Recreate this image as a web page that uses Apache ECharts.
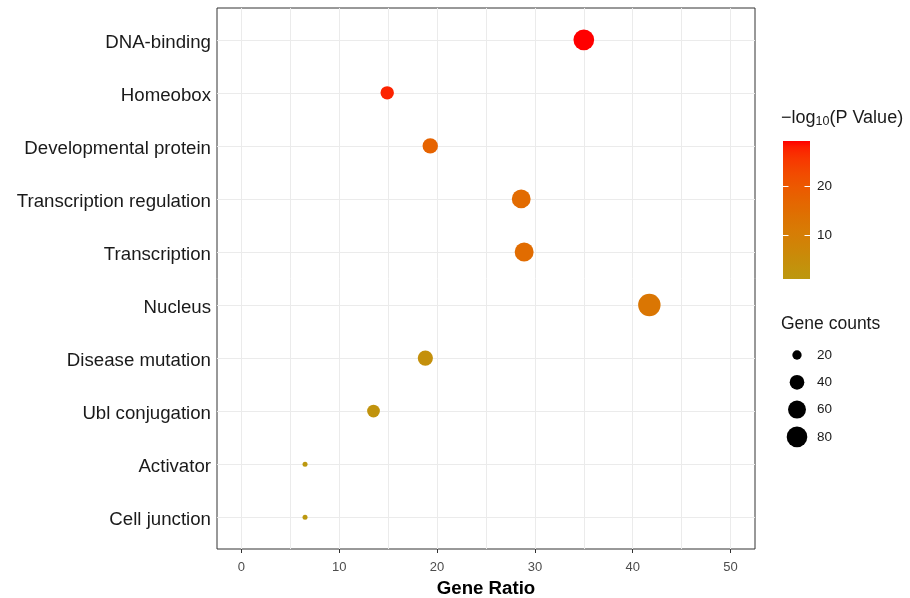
<!DOCTYPE html>
<html>
<head>
<meta charset="utf-8">
<script src="https://cdn.jsdelivr.net/npm/echarts@6/dist/echarts.min.js"></script>
<style>
  html, body { margin: 0; padding: 0; background: #ffffff; }
  #chart { width: 910px; height: 598px; }
</style>
</head>
<body>
<div id="chart"></div>
<script>
// Functional annotation terms, top to bottom
const categories = ['DNA-binding', 'Homeobox', 'Developmental protein', 'Transcription regulation',
  'Transcription', 'Nucleus', 'Disease mutation', 'Ubl conjugation', 'Activator', 'Cell junction'];
const geneRatio  = [35.0, 14.9, 19.3, 28.6, 28.9, 41.7, 18.8, 13.5, 6.5, 6.5];
const geneCounts = [81, 34, 44, 66, 67, 96, 43, 31, 15, 15];
const negLogP    = [29.2, 27.5, 17.5, 15.5, 15.2, 12.5, 4.0, 3.0, 1.16, 1.2];

const xTicks = [0, 10, 20, 30, 40, 50];
const xGrid = [0, 5, 10, 15, 20, 25, 30, 35, 40, 45, 50];
const colorTicks = [10, 20];
const sizeBreaks = [20, 40, 60, 80];

const LOW = '#BC980F', HIGH = '#FF0000';
const FONT = '"Liberation Sans", Arial, sans-serif';

// ---- colour interpolation in CIE Lab ----
function hex2rgb(h) { return [1, 3, 5].map(i => parseInt(h.substr(i, 2), 16)); }
function lin(c) { c /= 255; return c <= 0.04045 ? c / 12.92 : Math.pow((c + 0.055) / 1.055, 2.4); }
function unlin(c) { c = c <= 0.0031308 ? 12.92 * c : 1.055 * Math.pow(c, 1 / 2.4) - 0.055; return Math.max(0, Math.min(255, Math.round(c * 255))); }
const WX = 0.95047, WY = 1, WZ = 1.08883;
function f(t) { return t > 216 / 24389 ? Math.cbrt(t) : (24389 / 27 * t + 16) / 116; }
function finv(t) { return t * t * t > 216 / 24389 ? t * t * t : (116 * t - 16) / (24389 / 27); }
function rgb2lab(rgb) {
  const [r, g, b] = rgb.map(lin);
  const X = 0.4124 * r + 0.3576 * g + 0.1805 * b;
  const Y = 0.2126 * r + 0.7152 * g + 0.0722 * b;
  const Z = 0.0193 * r + 0.1192 * g + 0.9505 * b;
  const fx = f(X / WX), fy = f(Y / WY), fz = f(Z / WZ);
  return [116 * fy - 16, 500 * (fx - fy), 200 * (fy - fz)];
}
function lab2hex(lab) {
  const fy = (lab[0] + 16) / 116, fx = fy + lab[1] / 500, fz = fy - lab[2] / 200;
  const X = WX * finv(fx), Y = WY * finv(fy), Z = WZ * finv(fz);
  const r = 3.2406 * X - 1.5372 * Y - 0.4986 * Z;
  const g = -0.9689 * X + 1.8758 * Y + 0.0415 * Z;
  const b = 0.0557 * X - 0.2040 * Y + 1.0570 * Z;
  return '#' + [r, g, b].map(unlin).map(v => v.toString(16).padStart(2, '0')).join('');
}
const labLow = rgb2lab(hex2rgb(LOW)), labHigh = rgb2lab(hex2rgb(HIGH));
const NSTOP = 24;
const colorStops = [];
for (let i = 0; i <= NSTOP; i++) {
  const t = i / NSTOP;
  colorStops.push(lab2hex(labLow.map((v, k) => v + (labHigh[k] - v) * t)));
}

const pMin = Math.min(...negLogP), pMax = Math.max(...negLogP);
const cMin = Math.min(...geneCounts), cMax = Math.max(...geneCounts);

// point diameter grows with the square root of the count (area scale)
const D_MIN = 5, D_MAX = 22.4;
function dotSize(n) {
  const t = Math.max(0, (n - cMin) / (cMax - cMin));
  return D_MIN + (D_MAX - D_MIN) * Math.sqrt(t);
}

const points = categories.map((c, i) => [geneRatio[i], i + 1, negLogP[i], geneCounts[i], c]);

// ---- legend geometry ----
const BAR = { x: 783, y: 141, w: 27, h: 138 };
const valToBarY = v => BAR.y + BAR.h - (v - pMin) / (pMax - pMin) * BAR.h;
const TITLE_SIZE = 17.5, LEG_SIZE = 13.5;

const graphics = [];
graphics.push({
  type: 'text', left: 781, top: 109,
  style: {
    text: '{a|\u2212log}{s|10}{a|(P Value)}',
    fill: '#1a1a1a', font: '18px ' + FONT,
    rich: {
      a: { fontSize: 18, fontFamily: FONT, lineHeight: 21, verticalAlign: 'middle', fill: '#1a1a1a' },
      s: { fontSize: 12.5, fontFamily: FONT, lineHeight: 12, verticalAlign: 'bottom', fill: '#1a1a1a' }
    }
  }
});
graphics.push({
  type: 'rect', shape: { x: BAR.x, y: BAR.y, width: BAR.w, height: BAR.h },
  style: {
    fill: new echarts.graphic.LinearGradient(0, 1, 0, 0,
      colorStops.map((c, i) => ({ offset: i / NSTOP, color: c })))
  }
});
colorTicks.forEach(v => {
  const y = Math.round(valToBarY(v)) + 0.5;
  graphics.push({ type: 'line', shape: { x1: BAR.x, y1: y, x2: BAR.x + 5.5, y2: y }, style: { stroke: '#ffffff', lineWidth: 1 } });
  graphics.push({ type: 'line', shape: { x1: BAR.x + BAR.w - 5.5, y1: y, x2: BAR.x + BAR.w, y2: y }, style: { stroke: '#ffffff', lineWidth: 1 } });
  graphics.push({
    type: 'text', x: BAR.x + BAR.w + 7, y: y,
    style: { text: String(v), font: LEG_SIZE + 'px ' + FONT, fill: '#1a1a1a', textVerticalAlign: 'middle', verticalAlign: 'middle' }
  });
});
graphics.push({
  type: 'text', left: 781, top: 315,
  style: { text: 'Gene counts', font: TITLE_SIZE + 'px ' + FONT, fill: '#1a1a1a' }
});
sizeBreaks.forEach((n, i) => {
  const cy = 355 + i * 27.3;
  graphics.push({ type: 'circle', shape: { cx: 797, cy: cy, r: dotSize(n) / 2 }, style: { fill: '#000000' } });
  graphics.push({
    type: 'text', x: 817, y: cy,
    style: { text: String(n), font: LEG_SIZE + 'px ' + FONT, fill: '#1a1a1a', textVerticalAlign: 'middle', verticalAlign: 'middle' }
  });
});

const chart = echarts.init(document.getElementById('chart'), null, { renderer: 'canvas' });
chart.setOption({
  animation: false,
  backgroundColor: '#ffffff',
  grid: {
    left: 217, right: 155, top: 8, bottom: 49,
    containLabel: false, outerBoundsMode: 'none',
    show: true, borderColor: '#333333', borderWidth: 1, backgroundColor: '#ffffff'
  },
  xAxis: {
    type: 'value', min: -2.5, max: 52.5,
    name: 'Gene Ratio', nameLocation: 'middle', nameGap: 28,
    nameTextStyle: { fontFamily: FONT, fontSize: 18.67, fontWeight: 'bold', color: '#000000' },
    axisLine: { show: false },
    splitLine: { show: false },
    axisTick: { show: true, inside: false, length: 4, customValues: xTicks, lineStyle: { color: '#333333' } },
    axisLabel: { customValues: xTicks, margin: 12, fontFamily: FONT, fontSize: 13, color: '#4d4d4d' }
  },
  yAxis: {
    type: 'value', min: 0.4, max: 10.6, inverse: true,
    axisLine: { show: false },
    splitLine: { show: false },
    axisTick: { show: true, inside: false, length: 4, customValues: categories.map((c, i) => i + 1), lineStyle: { color: '#333333' } },
    axisLabel: {
      customValues: categories.map((c, i) => i + 1),
      formatter: v => categories[Math.round(v) - 1] || '',
      margin: 6, verticalAlign: 'top', lineHeight: 6,
      fontFamily: FONT, fontSize: 18.67, color: '#1a1a1a'
    }
  },
  visualMap: {
    show: false, type: 'continuous', dimension: 2,
    min: pMin, max: pMax, seriesIndex: 1,
    inRange: { color: colorStops }
  },
  series: [
    {
      // panel grid lines
      type: 'scatter', data: [], z: 1, silent: true,
      markLine: {
        z: 1, silent: true, symbol: 'none', animation: false,
        label: { show: false },
        lineStyle: { color: '#ebebeb', width: 1, type: 'solid' },
        emphasis: { disabled: true },
        data: xGrid.map(v => ({ xAxis: v })).concat(categories.map((c, i) => ({ yAxis: i + 1 })))
      }
    },
    {
      type: 'scatter', z: 10,
      data: points,
      encode: { x: 0, y: 1 },
      symbol: 'circle',
      symbolSize: val => dotSize(val[3]),
      itemStyle: { opacity: 1 }
    }
  ],
  graphic: graphics
});
</script>
</body>
</html>
